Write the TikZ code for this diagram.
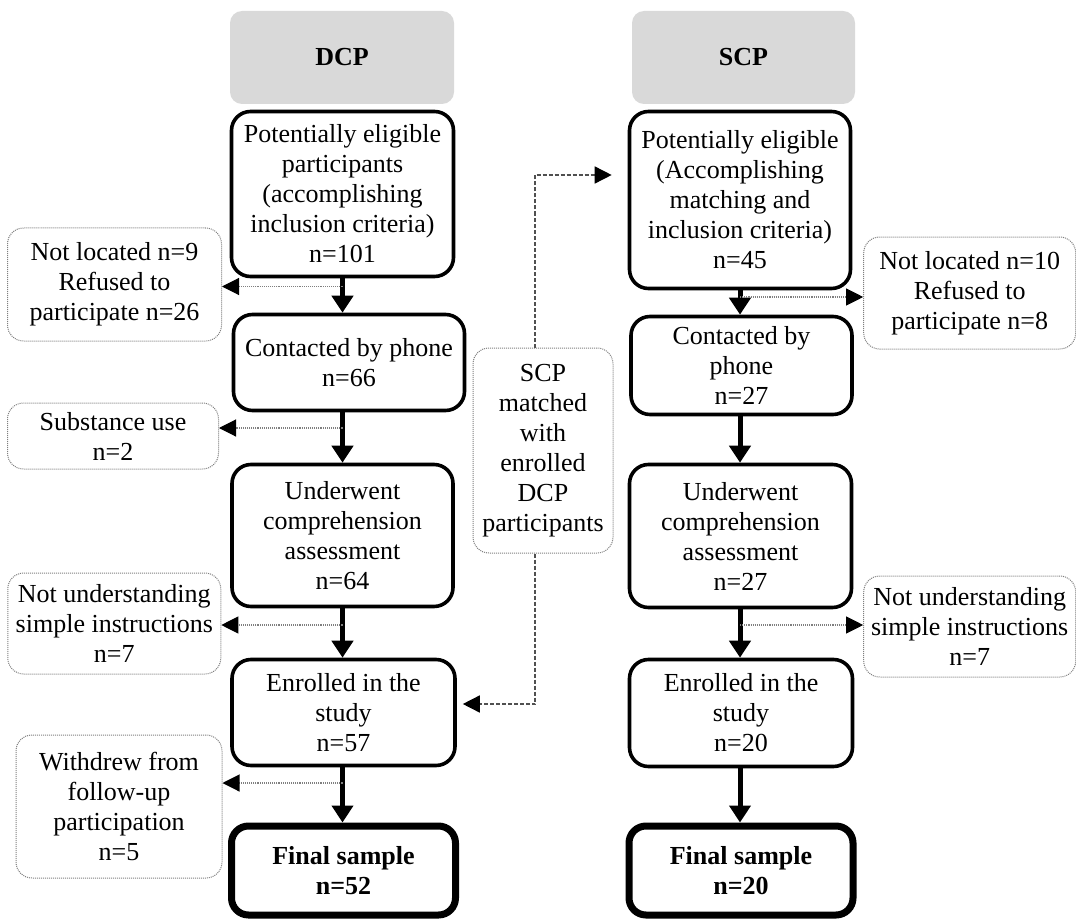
\documentclass[tikz,border=0pt]{standalone}
\usepackage{fontspec}
\setmainfont{Liberation Serif}
\usetikzlibrary{arrows.meta,calc}
\definecolor{hdrgray}{HTML}{D9D9D9}
\definecolor{dotgray}{HTML}{7F7F7F}
\definecolor{dashgray}{HTML}{505050}
\tikzset{
  txt/.style={font=\fontsize{26}{30}\selectfont, align=center, inner sep=0pt},
  header/.style={txt, fill=hdrgray, rounded corners=12pt, font=\fontsize{26}{30}\selectfont\bfseries},
  mainbox/.style={txt, draw=black, line width=3.6pt, rounded corners=19pt},
  finalbox/.style={txt, draw=black, line width=7pt, rounded corners=17pt, font=\fontsize{26}{30}\selectfont\bfseries},
  sidebox/.style={txt, draw=dotgray, densely dotted, line width=1pt, rounded corners=16pt},
  flow/.style={line width=5pt, -{Triangle[width=21pt,length=17pt]}},
  exclude/.style={draw=dotgray, densely dotted, line width=1.1pt, -{Triangle[width=17pt,length=17pt,color=black,fill=black]}},
  matchline/.style={draw=dashgray, dash pattern=on 4pt off 2pt, line width=1.5pt, -{Triangle[width=17pt,length=17pt,color=black,fill=black]}}
}
\begin{document}
\begin{tikzpicture}[x=1pt,y=-1pt]
\useasboundingbox (0,0) rectangle (1076,920);

% DCP column
\node[header, minimum width=224, minimum height=93] (d0) at (342,57.5) {DCP};
\node[mainbox, minimum width=222, minimum height=165] (d1) at (342.5,194) {Potentially eligible\\participants\\(accomplishing\\inclusion criteria)\\n=101};
\node[mainbox, minimum width=231, minimum height=96] (d2) at (349,362.5) {Contacted by phone\\n=66};
\node[mainbox, minimum width=221, minimum height=142] (d3) at (342.5,535.5) {Underwent\\comprehension\\assessment\\n=64};
\node[mainbox, minimum width=223, minimum height=106] (d4) at (343.5,712.5) {Enrolled in the\\study\\n=57};
\node[finalbox, minimum width=224, minimum height=89] (d5) at (343.5,870.5) {Final sample\\n=52};

% SCP column
\node[header, minimum width=223, minimum height=93] (s0) at (743.5,57.5) {SCP};
\node[mainbox, minimum width=221, minimum height=177] (s1) at (740,200) {Potentially eligible\\(Accomplishing\\matching and\\inclusion criteria)\\n=45};
\node[mainbox, minimum width=221, minimum height=98] (s2) at (741.5,365.5) {Contacted by\\phone\\n=27};
\node[mainbox, minimum width=222, minimum height=143] (s3) at (740.5,536) {Underwent\\comprehension\\assessment\\n=27};
\node[mainbox, minimum width=223, minimum height=107] (s4) at (741,713) {Enrolled in the\\study\\n=20};
\node[finalbox, minimum width=224, minimum height=89] (s5) at (741,870.5) {Final sample\\n=20};

% side boxes
\node[sidebox, minimum width=214, minimum height=113] (l1) at (114.5,284.5) {Not located n=9\\Refused to\\participate n=26};
\node[sidebox, minimum width=211, minimum height=66] (l2) at (113,436) {Substance use\\n=2};
\node[sidebox, minimum width=213, minimum height=101] (l3) at (114.3,623.5) {Not understanding\\simple instructions\\n=7};
\node[sidebox, minimum width=206, minimum height=143] (l4) at (119,806.5) {Withdrew from\\follow-up\\participation\\n=5};
\node[sidebox, minimum width=212, minimum height=112] (r1) at (969.7,293) {Not located n=10\\Refused to\\participate n=8};
\node[sidebox, minimum width=212, minimum height=101] (r2) at (969.7,626.5) {Not understanding\\simple instructions\\n=7};
\node[sidebox, minimum width=140, minimum height=205] (m) at (543,450.5) {SCP\\matched\\with\\enrolled\\DCP\\participants};

% main flow arrows
\draw[flow] (d1.south) -- (d1.south |- d2.north);
\draw[flow] (d1.south |- d2.south) -- (d3.north);
\draw[flow] (d3.south) -- (d3.south |- d4.north);
\draw[flow] (d3.south |- d4.south) -- (d3.south |- d5.north);
\draw[flow] (s1.south) -- (s1.south |- s2.north);
\draw[flow] (s1.south |- s2.south) -- (s1.south |- s3.north);
\draw[flow] (s1.south |- s3.south) -- (s1.south |- s4.north);
\draw[flow] (s1.south |- s4.south) -- (s1.south |- s5.north);

% exclusion arrows
\coordinate (j1) at (342.5,286.5);
\coordinate (j2) at (342.5,428);
\coordinate (j3) at (342.5,625);
\coordinate (j4) at (342.5,783);
\coordinate (k1) at (740,297);
\coordinate (k2) at (740,625);
\draw[exclude] (j1) -- (j1 -| l1.east);
\draw[exclude] (j2) -- (j2 -| l2.east);
\draw[exclude] (j3) -- (j3 -| l3.east);
\draw[exclude] (j4) -- (j4 -| l4.east);
\draw[exclude] (k1) -- (k1 -| r1.west);
\draw[exclude] (k2) -- (k2 -| r2.west);

% matching connectors
\coordinate (mt) at (535,175);
\coordinate (mb) at (535,704);
\draw[matchline] ([xshift=-8pt]m.north) -- (mt) -- ($(mt -| s1.west)+(-16,0)$);
\draw[matchline] ([xshift=-8pt]m.south) -- (mb) -- ($(mb -| d4.east)+(6,0)$);
\end{tikzpicture}
\end{document}
